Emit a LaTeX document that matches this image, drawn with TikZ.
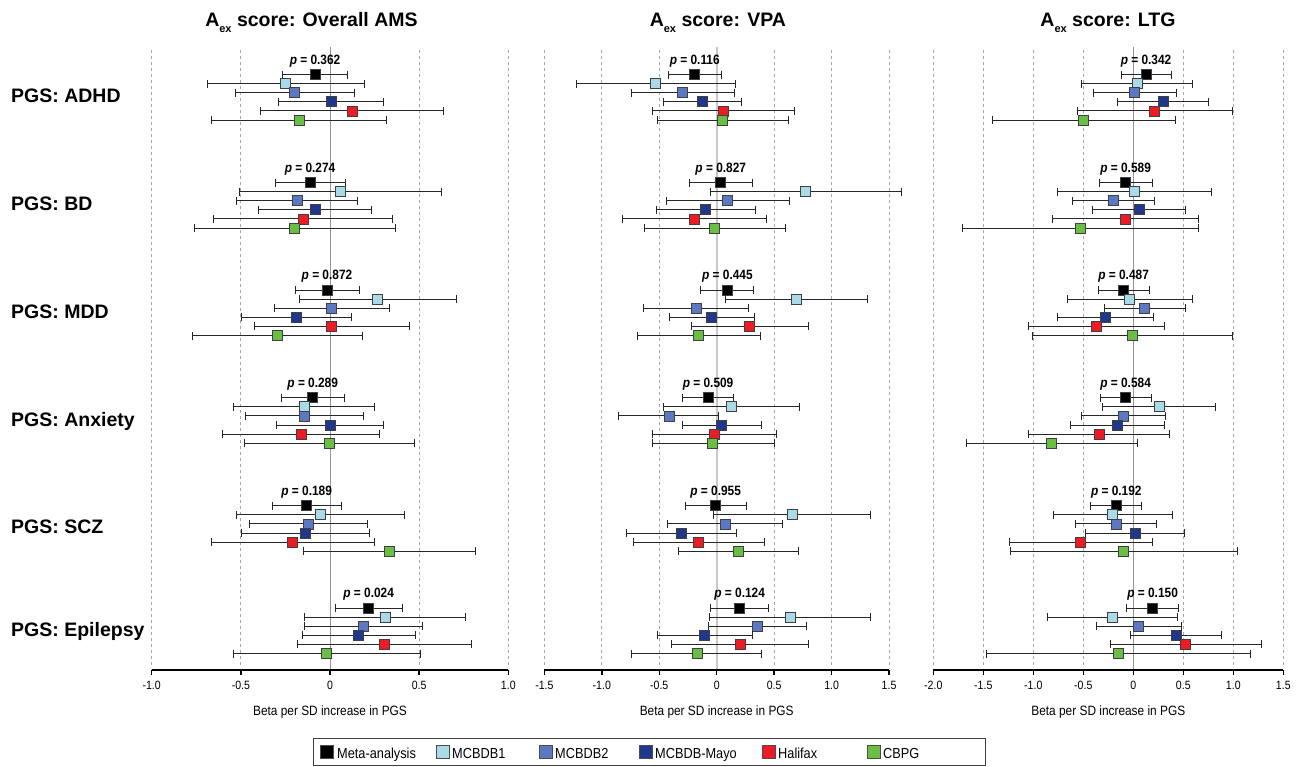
\documentclass[tikz,border=0pt]{standalone}
\usepackage{fontspec}
\setmainfont{Liberation Sans}
\newfontfamily\nar[FakeStretch=0.88]{Liberation Sans}
\usetikzlibrary{arrows.meta}
\definecolor{cmeta}{RGB}{0,0,0}
\definecolor{cb1}{RGB}{170,218,232}
\definecolor{cb2}{RGB}{92,120,195}
\definecolor{cmayo}{RGB}{32,56,140}
\definecolor{chal}{RGB}{237,28,36}
\definecolor{ccb}{RGB}{106,189,69}
\definecolor{gridc}{RGB}{165,165,165}
\definecolor{zeroc}{RGB}{150,150,150}
\definecolor{zeroc2}{RGB}{200,200,200}
\tikzset{
  ebar/.style={draw=black!85, line width=0.9pt, {Bar[width=8pt]}-{Bar[width=8pt]}},
  sq/.style={draw=black!75, line width=0.8pt, minimum size=10pt, inner sep=0pt},
  plab/.style={anchor=base, inner sep=0pt, font={\nar\bfseries\fontsize{13.5}{15}\selectfont}},
  gridl/.style={draw=gridc, line width=0.8pt, dash pattern=on 3pt off 3pt},
  zerol/.style={draw=zeroc, line width=1pt},
  axisl/.style={draw=black, line width=1.4pt},
  tickl/.style={anchor=base, inner sep=0pt, font={\nar\fontsize{12}{14}\selectfont}},
  atitle/.style={anchor=base, inner sep=0pt, font={\nar\fontsize{13.5}{15}\selectfont}},
  ptitle/.style={anchor=base, inner sep=0pt, font={\bfseries\fontsize{19.5}{22}\selectfont}},
  glab/.style={anchor=base west, inner sep=0pt, font={\bfseries\fontsize{19.5}{22}\selectfont}},
  legt/.style={anchor=base west, inner sep=0pt, font={\nar\fontsize{14.5}{16}\selectfont}},
  legsq/.style={draw=black!70, line width=0.8pt, minimum size=13pt, inner sep=0pt},
}
\newcommand\eb[5]{\draw[ebar] (#2,\G+9.1*#1) -- (#4,\G+9.1*#1); \node[sq,fill=#5] at (#3,\G+9.1*#1) {};}
\newcommand\pl[2]{\node[plab] at (#1,\G-10.3) {\textit{p} = #2};}
\newcommand\ptit[1]{\textbf{A\raisebox{-5.5pt}{\fontsize{11}{12}\selectfont ex} score: #1}}
\begin{document}
\begin{tikzpicture}[x=1pt, y=-1pt]
\fill[white] (0,0) rectangle (1296,766);
\useasboundingbox (0,0) rectangle (1296,766);

% group labels
\node[glab] (lADHD) at (11,102.5) {PGS: ADHD};
\node[glab] (lBD) at (11,210.5) {PGS: BD};
\node[glab] (lMDD) at (11,318) {PGS: MDD};
\node[glab] (lANX) at (11,426) {PGS: Anxiety};
\node[glab] (lSCZ) at (11,533.5) {PGS: SCZ};
\node[glab] (lEPI) at (11,636) {PGS: Epilepsy};

%================ Panel 1 =================
\begin{scope}[shift={(330pt,0pt)}, x=178.3pt]
\foreach \v in {-1,-0.5,0.5,1} \draw[gridl] (\v,50) -- (\v,668);
\draw[zerol] (0,47) -- (0,670);
\draw[axisl] (-1,670) -- (1,670);
\foreach \v/\l in {-1/-1.0,-0.5/-0.5,0/0,0.5/0.5,1/1.0} {\draw[axisl] (\v,670) -- (\v,675); \node[tickl] at (\v,689.5) {\l};}
\node[atitle] (at1) at (0,715.5) {Beta per SD increase in PGS};
\node[ptitle] (t1) at (-0.104,26.7) {\ptit{Overall AMS}};
% ADHD
\def\G{74.5}\pl{-0.084}{0.362}
\eb0{-0.269}{-0.084}{0.101}{cmeta}
\eb1{-0.690}{-0.249}{0.194}{cb1}
\eb2{-0.535}{-0.198}{0.140}{cb2}
\eb3{-0.290}{0.007}{0.305}{cmayo}
\eb4{-0.391}{0.123}{0.639}{chal}
\eb5{-0.669}{-0.174}{0.320}{ccb}
% BD
\def\G{182.5}\pl{-0.112}{0.274}
\eb0{-0.310}{-0.112}{0.090}{cmeta}
\eb1{-0.512}{0.056}{0.626}{cb1}
\eb2{-0.527}{-0.185}{0.159}{cb2}
\eb3{-0.406}{-0.084}{0.237}{cmayo}
\eb4{-0.654}{-0.150}{0.355}{chal}
\eb5{-0.763}{-0.198}{0.368}{ccb}
% MDD
\def\G{290}\pl{-0.017}{0.872}
\eb0{-0.194}{-0.017}{0.166}{cmeta}
\eb1{-0.176}{0.267}{0.714}{cb1}
\eb2{-0.314}{0.009}{0.335}{cb2}
\eb3{-0.501}{-0.191}{0.121}{cmayo}
\eb4{-0.424}{0.007}{0.447}{chal}
\eb5{-0.776}{-0.295}{0.187}{ccb}
% Anxiety
\def\G{397.7}\pl{-0.097}{0.289}
\eb0{-0.275}{-0.097}{0.082}{cmeta}
\eb1{-0.542}{-0.146}{0.254}{cb1}
\eb2{-0.475}{-0.144}{0.189}{cb2}
\eb3{-0.301}{0.000}{0.305}{cmayo}
\eb4{-0.607}{-0.163}{0.279}{chal}
\eb5{-0.484}{-0.004}{0.477}{ccb}
% SCZ
\def\G{505.7}\pl{-0.131}{0.189}
\eb0{-0.325}{-0.131}{0.067}{cmeta}
\eb1{-0.527}{-0.054}{0.421}{cb1}
\eb2{-0.452}{-0.120}{0.211}{cb2}
\eb3{-0.501}{-0.138}{0.226}{cmayo}
\eb4{-0.669}{-0.209}{0.254}{chal}
\eb5{-0.150}{0.335}{0.821}{ccb}
% Epilepsy
\def\G{608}\pl{0.217}{0.024}
\eb0{0.028}{0.217}{0.407}{cmeta}
\eb1{-0.144}{0.308}{0.763}{cb1}
\eb2{-0.144}{0.187}{0.520}{cb2}
\eb3{-0.155}{0.161}{0.482}{cmayo}
\eb4{-0.183}{0.305}{0.794}{chal}
\eb5{-0.544}{-0.019}{0.508}{ccb}
\end{scope}

%================ Panel 2 =================
\begin{scope}[shift={(716.7pt,0pt)}, x=114.9pt]
\foreach \v in {-1.5,-1,-0.5,0.5,1,1.5} \draw[gridl] (\v,50) -- (\v,668);
\draw[draw=zeroc2, line width=2pt] (0,47) -- (0,670);
\draw[axisl] (-1.5,670) -- (1.5,670);
\foreach \v/\l in {-1.5/-1.5,-1/-1.0,-0.5/-0.5,0/0,0.5/0.5,1/1.0,1.5/1.5} {\draw[axisl] (\v,670) -- (\v,675); \node[tickl] at (\v,689.5) {\l};}
\node[atitle] (at2) at (0,715.5) {Beta per SD increase in PGS};
\node[ptitle] (t2) at (0.01,26.7) {\ptit{VPA}};
% ADHD
\def\G{74.5}\pl{-0.191}{0.116}
\eb0{-0.426}{-0.191}{0.046}{cmeta}
\eb1{-1.227}{-0.534}{0.171}{cb1}
\eb2{-0.749}{-0.296}{0.160}{cb2}
\eb3{-0.467}{-0.122}{0.223}{cmayo}
\eb4{-0.566}{0.055}{0.682}{chal}
\eb5{-0.519}{0.052}{0.624}{ccb}
% BD
\def\G{182.5}\pl{0.035}{0.827}
\eb0{-0.244}{0.035}{0.313}{cmeta}
\eb1{-0.061}{0.775}{1.610}{cb1}
\eb2{-0.441}{0.096}{0.635}{cb2}
\eb3{-0.531}{-0.099}{0.337}{cmayo}
\eb4{-0.827}{-0.197}{0.438}{chal}
\eb5{-0.635}{-0.023}{0.598}{ccb}
% MDD
\def\G{290}\pl{0.093}{0.445}
\eb0{-0.142}{0.093}{0.328}{cmeta}
\eb1{0.070}{0.696}{1.320}{cb1}
\eb2{-0.638}{-0.180}{0.281}{cb2}
\eb3{-0.415}{-0.044}{0.331}{cmayo}
\eb4{-0.226}{0.287}{0.804}{chal}
\eb5{-0.696}{-0.157}{0.383}{ccb}
% Anxiety
\def\G{397.7}\pl{-0.075}{0.509}
\eb0{-0.302}{-0.075}{0.151}{cmeta}
\eb1{-0.464}{0.128}{0.722}{cb1}
\eb2{-0.859}{-0.415}{0.023}{cb2}
\eb3{-0.305}{0.044}{0.395}{cmayo}
\eb4{-0.560}{-0.020}{0.525}{chal}
\eb5{-0.566}{-0.035}{0.505}{ccb}
% SCZ
\def\G{505.7}\pl{-0.009}{0.955}
\eb0{-0.279}{-0.009}{0.267}{cmeta}
\eb1{-0.029}{0.656}{1.340}{cb1}
\eb2{-0.432}{0.073}{0.580}{cb2}
\eb3{-0.786}{-0.305}{0.177}{cmayo}
\eb4{-0.725}{-0.157}{0.421}{chal}
\eb5{-0.339}{0.189}{0.719}{ccb}
% Epilepsy
\def\G{608}\pl{0.200}{0.124}
\eb0{-0.055}{0.200}{0.450}{cmeta}
\eb1{-0.067}{0.638}{1.340}{cb1}
\eb2{-0.078}{0.354}{0.786}{cb2}
\eb3{-0.522}{-0.104}{0.313}{cmayo}
\eb4{-0.395}{0.203}{0.804}{chal}
\eb5{-0.743}{-0.171}{0.395}{ccb}
\end{scope}

%================ Panel 3 =================
\begin{scope}[shift={(1133.3pt,0pt)}, x=100pt]
\foreach \v in {-2,-1.5,-1,-0.5,0.5,1,1.5} \draw[gridl] (\v,50) -- (\v,668);
\draw[zerol] (0,47) -- (0,670);
\draw[axisl] (-2,670) -- (1.5,670);
\foreach \v/\l in {-2/-2.0,-1.5/-1.5,-1/-1.0,-0.5/-0.5,0/0,0.5/0.5,1/1.0,1.5/1.5} {\draw[axisl] (\v,670) -- (\v,675); \node[tickl] at (\v,689.5) {\l};}
\node[atitle] (at3) at (-0.25,715.5) {Beta per SD increase in PGS};
\node[ptitle] (t3) at (-0.253,26.7) {\ptit{LTG}};
% ADHD
\def\G{74.5}\pl{0.127}{0.342}
\eb0{-0.127}{0.127}{0.383}{cmeta}
\eb1{-0.527}{0.037}{0.597}{cb1}
\eb2{-0.407}{0.010}{0.433}{cb2}
\eb3{-0.163}{0.297}{0.753}{cmayo}
\eb4{-0.567}{0.213}{0.993}{chal}
\eb5{-1.417}{-0.500}{0.430}{ccb}
% BD
\def\G{182.5}\pl{-0.077}{0.589}
\eb0{-0.343}{-0.077}{0.193}{cmeta}
\eb1{-0.763}{0.013}{0.790}{cb1}
\eb2{-0.617}{-0.200}{0.213}{cb2}
\eb3{-0.410}{0.057}{0.527}{cmayo}
\eb4{-0.817}{-0.080}{0.657}{chal}
\eb5{-1.717}{-0.533}{0.657}{ccb}
% MDD
\def\G{290}\pl{-0.097}{0.487}
\eb0{-0.353}{-0.097}{0.163}{cmeta}
\eb1{-0.667}{-0.037}{0.593}{cb1}
\eb2{-0.297}{0.113}{0.523}{cb2}
\eb3{-0.760}{-0.277}{0.207}{cmayo}
\eb4{-1.057}{-0.373}{0.317}{chal}
\eb5{-1.013}{-0.007}{1.000}{ccb}
% Anxiety
\def\G{397.7}\pl{-0.077}{0.584}
\eb0{-0.333}{-0.077}{0.183}{cmeta}
\eb1{-0.310}{0.257}{0.827}{cb1}
\eb2{-0.527}{-0.097}{0.330}{cb2}
\eb3{-0.637}{-0.163}{0.320}{cmayo}
\eb4{-1.050}{-0.340}{0.370}{chal}
\eb5{-1.677}{-0.817}{0.047}{ccb}
% SCZ
\def\G{505.7}\pl{-0.170}{0.192}
\eb0{-0.433}{-0.170}{0.090}{cmeta}
\eb1{-0.807}{-0.210}{0.393}{cb1}
\eb2{-0.580}{-0.170}{0.240}{cb2}
\eb3{-0.487}{0.017}{0.520}{cmayo}
\eb4{-1.247}{-0.530}{0.197}{chal}
\eb5{-1.230}{-0.097}{1.043}{ccb}
% Epilepsy
\def\G{608}\pl{0.193}{0.150}
\eb0{-0.070}{0.193}{0.457}{cmeta}
\eb1{-0.867}{-0.213}{0.447}{cb1}
\eb2{-0.370}{0.053}{0.483}{cb2}
\eb3{-0.030}{0.427}{0.883}{cmayo}
\eb4{-0.237}{0.523}{1.290}{chal}
\eb5{-1.477}{-0.150}{1.180}{ccb}
\end{scope}

%================ Legend =================
\draw[draw=black!75, line width=1pt] (313,738) rectangle (985,765.5);
\node[legsq, fill=cmeta] (k1) at (327,752) {};
\node[legt] (n1) at (337,758) {Meta-analysis};
\node[legsq, fill=cb1] (k2) at (443,752) {};
\node[legt] (n2) at (452,758) {MCBDB1};
\node[legsq, fill=cb2] (k3) at (546,752) {};
\node[legt] (n3) at (555,758) {MCBDB2};
\node[legsq, fill=cmayo] (k4) at (646,752) {};
\node[legt] (n4) at (655,758) {MCBDB-Mayo};
\node[legsq, fill=chal] (k5) at (769,752) {};
\node[legt] (n5) at (778,758) {Halifax};
\node[legsq, fill=ccb] (k6) at (874,752) {};
\node[legt] (n6) at (883,758) {CBPG};
\end{tikzpicture}
\end{document}
